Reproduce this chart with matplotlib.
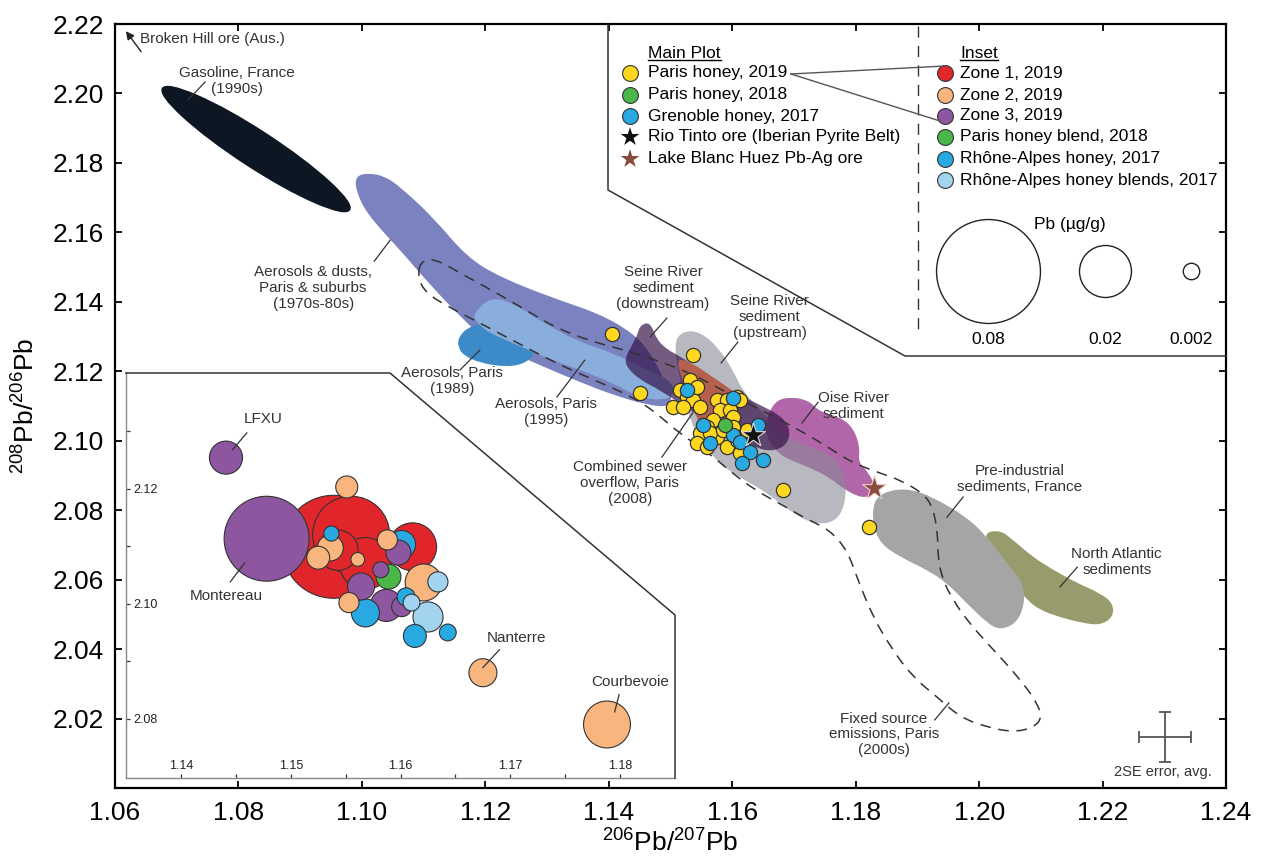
import numpy as np
import matplotlib
matplotlib.use('Agg')
import matplotlib.pyplot as plt
from matplotlib.path import Path
from matplotlib.patches import PathPatch
from matplotlib.ticker import FormatStrFormatter

plt.rcParams['font.family'] = ['Liberation Sans', 'DejaVu Sans']
plt.rcParams['mathtext.fontset'] = 'custom'
plt.rcParams['mathtext.rm'] = 'Liberation Sans'

# ---- field outlines (206Pb/207Pb, 208Pb/206Pb) ----
gasoline_x = [1.0974, 1.0874, 1.0749, 1.0669, 1.0683, 1.0783, 1.0908, 1.0988]
gasoline_y = [2.1645, 2.1722, 2.1867, 2.1997, 2.2035, 2.1958, 2.1813, 2.1683]

dusts_x = [1.0990, 1.1010, 1.1037, 1.1062, 1.1115, 1.1170, 1.1224, 1.1305, 1.1386, 1.1439,
           1.1467, 1.1486, 1.1502, 1.1499, 1.1462, 1.1407, 1.1353, 1.1300, 1.1240, 1.1191,
           1.1159, 1.1115, 1.1062, 1.1008, 1.0990]
dusts_y = [2.1762, 2.1771, 2.1762, 2.1731, 2.1644, 2.1529, 2.1471, 2.1414, 2.1365, 2.1310,
           2.1255, 2.1189, 2.1132, 2.1097, 2.1103, 2.1132, 2.1169, 2.1209, 2.1255, 2.1304,
           2.1359, 2.1440, 2.1549, 2.1653, 2.1722]

aer89_x = [1.1156, 1.1170, 1.1196, 1.1235, 1.1267, 1.1284, 1.1267, 1.1235, 1.1191, 1.1164, 1.1156]
aer89_y = [2.1296, 2.1325, 2.1339, 2.1313, 2.1284, 2.1261, 2.1224, 2.1212, 2.1224, 2.1247, 2.1270]

aer95_x = [1.1182, 1.1208, 1.1245, 1.1300, 1.1353, 1.1407, 1.1462, 1.1499, 1.1507, 1.1494,
           1.1451, 1.1407, 1.1353, 1.1300, 1.1245, 1.1203, 1.1183]
aer95_y = [2.1368, 2.1414, 2.1397, 2.1333, 2.1284, 2.1253, 2.1204, 2.1175, 2.1140, 2.1117,
           2.1123, 2.1166, 2.1204, 2.1238, 2.1281, 2.1313, 2.1348]

down_x = [1.1451, 1.1467, 1.1478, 1.1496, 1.1512, 1.1548, 1.1596, 1.1645, 1.1677, 1.1694,
          1.1690, 1.1661, 1.1629, 1.1580, 1.1532, 1.1483, 1.1451, 1.1430, 1.1426, 1.1438, 1.1446]
down_y = [2.1333, 2.1342, 2.1290, 2.1261, 2.1247, 2.1204, 2.1146, 2.1103, 2.1074, 2.1037,
          2.0988, 2.0967, 2.0988, 2.1031, 2.1088, 2.1146, 2.1175, 2.1209, 2.1238, 2.1276, 2.1304]

up_x = [1.1511, 1.1532, 1.1556, 1.1580, 1.1601, 1.1616, 1.1645, 1.1694, 1.1742, 1.1771,
        1.1784, 1.1783, 1.1767, 1.1734, 1.1702, 1.1661, 1.1621, 1.1588, 1.1567, 1.1548,
        1.1532, 1.1523, 1.1512, 1.1507]
up_y = [2.1304, 2.1319, 2.1304, 2.1261, 2.1204, 2.1146, 2.1088, 2.1002, 2.0973, 2.0944,
        2.0887, 2.0815, 2.0766, 2.0760, 2.0786, 2.0844, 2.0887, 2.0921, 2.0959, 2.1002,
        2.1060, 2.1117, 2.1204, 2.1261]

cso_x = [1.1509, 1.1532, 1.1569, 1.1604, 1.1613, 1.1588, 1.1561, 1.1543, 1.1532, 1.1519]
cso_y = [2.1238, 2.1227, 2.1183, 2.1140, 2.1103, 2.1060, 2.1025, 2.1060, 2.1117, 2.1175]

oise_x = [1.1661, 1.1673, 1.1694, 1.1723, 1.1742, 1.1775, 1.1796, 1.1807, 1.1804, 1.1820,
          1.1831, 1.1828, 1.1810, 1.1783, 1.1758, 1.1734, 1.1702, 1.1677, 1.1658, 1.1653]
oise_y = [2.1088, 2.1117, 2.1126, 2.1117, 2.1083, 2.1068, 2.1037, 2.0982, 2.0939, 2.0910,
          2.0872, 2.0844, 2.0835, 2.0858, 2.0893, 2.0916, 2.0939, 2.0959, 2.1002, 2.1045]

preind_x = [1.1835, 1.1856, 1.1888, 1.1925, 1.1980, 1.2013, 1.2050, 1.2071, 1.2074, 1.2061,
            1.2034, 1.2013, 1.1980, 1.1948, 1.1916, 1.1872, 1.1839, 1.1828, 1.1828]
preind_y = [2.0838, 2.0858, 2.0861, 2.0838, 2.0780, 2.0723, 2.0636, 2.0590, 2.0532, 2.0475,
            2.0455, 2.0475, 2.0532, 2.0590, 2.0628, 2.0665, 2.0705, 2.0763, 2.0809]

natl_x = [1.2006, 1.2034, 1.2055, 1.2087, 1.2120, 1.2159, 1.2196, 1.2217, 1.2217, 1.2196,
          1.2168, 1.2131, 1.2099, 1.2078, 1.2055, 1.2022]
natl_y = [2.0734, 2.0743, 2.0714, 2.0665, 2.0628, 2.0590, 2.0561, 2.0532, 2.0492, 2.0469,
          2.0475, 2.0492, 2.0512, 2.0541, 2.0590, 2.0665]

fixed_x = [1.1094, 1.1117, 1.1165, 1.1216, 1.1266, 1.1314, 1.1376, 1.1426, 1.1477, 1.1532,
           1.1593, 1.1656, 1.1718, 1.1768, 1.1796, 1.1839, 1.1872, 1.1909, 1.1925, 1.1933,
           1.1933, 1.1941, 1.1958, 1.1980, 1.2013, 1.2039, 1.2071, 1.2094, 1.2102, 1.2087,
           1.2055, 1.2013, 1.1969, 1.1932, 1.1893, 1.1860, 1.1828, 1.1802, 1.1786, 1.1758,
           1.1718, 1.1687, 1.1637, 1.1600, 1.1562, 1.1514, 1.1477, 1.1439, 1.1376, 1.1314,
           1.1253, 1.1191, 1.1141, 1.1104, 1.1091]
fixed_y = [2.1515, 2.1526, 2.1477, 2.1428, 2.1376, 2.1325, 2.1284, 2.1261, 2.1232, 2.1195,
           2.1137, 2.1080, 2.1022, 2.0967, 2.0936, 2.0907, 2.0887, 2.0849, 2.0809, 2.0734,
           2.0665, 2.0599, 2.0541, 2.0484, 2.0417, 2.0368, 2.0302, 2.0245, 2.0201, 2.0173,
           2.0161, 2.0175, 2.0204, 2.0262, 2.0319, 2.0397, 2.0492, 2.0607, 2.0685, 2.0743,
           2.0777, 2.0809, 2.0858, 2.0907, 2.0965, 2.1022, 2.1080, 2.1126, 2.1175, 2.1224,
           2.1281, 2.1339, 2.1385, 2.1425, 2.1468]

# ---- main plot samples ----
paris19_x = [1.1405, 1.1451, 1.1537, 1.1682, 1.1822, 1.1532, 1.1515, 1.1527, 1.1504, 1.1537,
             1.1548, 1.1520, 1.1543, 1.1575, 1.1592, 1.1608, 1.1613, 1.1580, 1.1596, 1.1601,
             1.1569, 1.1559, 1.1548, 1.1543, 1.1559, 1.1575, 1.1592, 1.1608, 1.1624, 1.1618,
             1.1613, 1.1564, 1.1585, 1.1601]
paris19_y = [2.1307, 2.1138, 2.1247, 2.0858, 2.0752, 2.1175, 2.1146, 2.1126, 2.1097, 2.1117,
             2.1097, 2.1097, 2.1155, 2.1117, 2.1117, 2.1126, 2.1117, 2.1089, 2.1089, 2.1068,
             2.1060, 2.1040, 2.1022, 2.0994, 2.0982, 2.1011, 2.0982, 2.1002, 2.1031, 2.0982,
             2.0965, 2.1022, 2.1031, 2.1040]
paris18_x = [1.1588]
paris18_y = [2.1045]
gren17_x = [1.1527, 1.1553, 1.1601, 1.1564, 1.1601, 1.1613, 1.1642, 1.1629, 1.1616, 1.1650]
gren17_y = [2.1146, 2.1045, 2.1123, 2.0994, 2.1017, 2.0996, 2.1045, 2.0967, 2.0936, 2.0944]
riotinto_x, riotinto_y = [1.1634], [2.1016]
huez_x, huez_y = [1.1830], [2.0864]

# ---- inset samples: ratio + Pb (ug/g) ----
zone1_x = [1.1539, 1.1555, 1.1543, 1.1568, 1.1611]
zone1_y = [2.1099, 2.1120, 2.1093, 2.1070, 2.1099]
zone1_pb = [0.0785, 0.0439, 0.0120, 0.0200, 0.0170]
zone2_x = [1.1551, 1.1525, 1.1536, 1.1561, 1.1553, 1.1621, 1.1588, 1.1675, 1.1788]
zone2_y = [2.1203, 2.1080, 2.1097, 2.1077, 2.1002, 2.1037, 2.1111, 2.0880, 2.0790]
zone2_pb = [0.0036, 0.0039, 0.0050, 0.0014, 0.0030, 0.0101, 0.0030, 0.0058, 0.0163]
zone3_x = [1.1441, 1.1478, 1.1564, 1.1587, 1.1598, 1.1582, 1.1601]
zone3_y = [2.1254, 2.1113, 2.1030, 2.0997, 2.1089, 2.1059, 2.0995]
zone3_pb = [0.0081, 0.0534, 0.0054, 0.0076, 0.0046, 0.0019, 0.0030]
blend18_x, blend18_y, blend18_pb = [1.1589], [2.1047], [0.0046]
ra17_x = [1.1537, 1.1601, 1.1568, 1.1613, 1.1643, 1.1605]
ra17_y = [2.1122, 2.1103, 2.0984, 2.0944, 2.0950, 2.1012]
ra17_pb = [0.0017, 0.0058, 0.0058, 0.0039, 0.0021, 0.0024]
rablend_x = [1.1634, 1.1625, 1.1610]
rablend_y = [2.1038, 2.0977, 2.1002]
rablend_pb = [0.0030, 0.0067, 0.0021]
pb_legend = [0.08, 0.02, 0.002]

YELLOW, GREEN, BLUE = '#ffd71f', '#4bb748', '#28a9e1'
RED, PEACH, PURPLE, LBLUE = '#e0262a', '#f8b57d', '#8e56a0', '#a3d4ef'
EDGE = '#333333'
TXT = '#333333'


def smooth_path(xs, ys):
    pts = np.column_stack([xs, ys])
    mids = (pts + np.roll(pts, -1, axis=0)) / 2
    verts = [mids[-1]]
    codes = [Path.MOVETO]
    for i in range(len(pts)):
        verts += [pts[i], mids[i]]
        codes += [Path.CURVE3, Path.CURVE3]
    return Path(verts, codes)


def bubble(pb):
    # marker area proportional to Pb concentration
    return 70000 * np.asarray(pb)


fig = plt.figure(figsize=(12.68, 8.65), dpi=100)
ax = fig.add_axes([0.0907, 0.0890, 0.8762, 0.8832])
ax.set_xlim(1.06, 1.24)
ax.set_ylim(2.00, 2.22)
ax.set_xticks(np.round(np.arange(1.06, 1.2401, 0.02), 2))
ax.set_yticks(np.round(np.arange(2.02, 2.2201, 0.02), 2))
ax.xaxis.set_major_formatter(FormatStrFormatter('%.2f'))
ax.yaxis.set_major_formatter(FormatStrFormatter('%.2f'))
ax.tick_params(direction='in', length=5, width=1.3, labelsize=19, top=True, right=True)
ax.tick_params(axis='y', pad=8)
ax.tick_params(axis='x', pad=9)
for s in ax.spines.values():
    s.set_linewidth(1.6)
ax.set_xlabel(r'$^{206}$Pb/$^{207}$Pb', fontsize=19, labelpad=2)
ax.set_ylabel(r'$^{208}$Pb/$^{206}$Pb', fontsize=19, labelpad=10)

fields = [
    (gasoline_x, gasoline_y, '#0d1623', 1.0),
    (dusts_x, dusts_y, '#7b82c0', 1.0),
    (aer89_x, aer89_y, '#3c8ac8', 1.0),
    (aer95_x, aer95_y, '#8aaedc', 1.0),
    (oise_x, oise_y, '#b066a8', 1.0),
    (up_x, up_y, '#8a8a96', 0.6),
    (down_x, down_y, '#320f46', 0.68),
    (cso_x, cso_y, '#b5604e', 1.0),
    (natl_x, natl_y, '#989b6b', 1.0),
    (preind_x, preind_y, '#a5a5a5', 1.0),
]
for i, (fx, fy, col, a) in enumerate(fields):
    ax.add_patch(PathPatch(smooth_path(fx, fy), facecolor=col, edgecolor='none',
                           alpha=a, zorder=1 + i * 0.01))

ax.add_patch(PathPatch(smooth_path(fixed_x, fixed_y), fill=False, edgecolor='#333333',
                       lw=1.1, linestyle=(0, (7, 5)), zorder=2))

ax.scatter(paris19_x, paris19_y, s=105, c=YELLOW, edgecolors=EDGE, linewidths=0.9, zorder=4)
ax.scatter(gren17_x, gren17_y, s=105, c=BLUE, edgecolors=EDGE, linewidths=0.9, zorder=4.1)
ax.scatter(paris18_x, paris18_y, s=105, c=GREEN, edgecolors=EDGE, linewidths=0.9, zorder=4.2)
ax.scatter(riotinto_x, riotinto_y, s=320, marker='*', c='#111111', edgecolors='#dddddd',
           linewidths=0.8, zorder=4.3)
ax.scatter(huez_x, huez_y, s=320, marker='*', c='#8b4a3e', edgecolors='#e8d0c8',
           linewidths=0.8, zorder=4.3)

labels = [
    ('Gasoline, France\n(1990s)', 1.0798, 2.2036, (1.0746, 2.2033, 1.0718, 2.1981)),
    ('Aerosols & dusts,\nParis & suburbs\n(1970s-80s)', 1.0921, 2.1440, (1.1020, 2.1517, 1.1046, 2.1578)),
    ('Aerosols, Paris\n(1989)', 1.1146, 2.1172, (1.1159, 2.1204, 1.1191, 2.1261)),
    ('Aerosols, Paris\n(1995)', 1.1298, 2.1083, (1.1316, 2.1126, 1.1361, 2.1232)),
    ('Seine River\nsediment\n(downstream)', 1.1488, 2.1440, (1.1494, 2.1353, 1.1467, 2.1299)),
    ('Seine River\nsediment\n(upstream)', 1.1661, 2.1356, (1.1609, 2.1284, 1.1582, 2.1224)),
    ('Oise River\nsediment', 1.1796, 2.1100, (1.1739, 2.1111, 1.1713, 2.1051)),
    ('Combined sewer\noverflow, Paris\n(2008)', 1.1434, 2.0878, (1.1486, 2.0953, 1.1536, 2.1080)),
    ('Pre-industrial\nsediments, France', 1.2066, 2.0890, (1.1974, 2.0838, 1.1948, 2.0780)),
    ('North Atlantic\nsediments', 1.2223, 2.0651, (1.2159, 2.0636, 1.2131, 2.0579)),
    ('Fixed source\nemissions, Paris\n(2000s)', 1.1846, 2.0155, (1.1928, 2.0196, 1.1951, 2.0245)),
]
for txt, tx, ty, (x1, y1, x2, y2) in labels:
    ax.text(tx, ty, txt, ha='center', va='center', fontsize=11, color=TXT,
            linespacing=1.15, zorder=6)
    ax.plot([x1, x2], [y1, y2], color=TXT, lw=0.9, zorder=6)

ax.annotate('', xy=(1.0615, 2.2186), xytext=(1.0645, 2.2114),
            arrowprops=dict(arrowstyle='-|>', color='#222222', lw=1, mutation_scale=12))
ax.text(1.0640, 2.2157, 'Broken Hill ore (Aus.)', ha='left', va='center', fontsize=11, color=TXT)

ax.errorbar([1.2301], [2.0147], xerr=0.0042, yerr=0.0073, fmt='none', ecolor='#555555',
            elinewidth=1.3, capsize=4, capthick=1.3)
ax.text(1.2298, 2.0046, '2SE error, avg.', ha='center', va='center', fontsize=10.5, color=TXT)

# ---- inset ----
iax = fig.add_axes([0.0994, 0.1006, 0.4330, 0.4694])
iax.set_facecolor('none')
iax.set_xlim(1.135, 1.185)
iax.set_ylim(2.0697, 2.1403)
for side in ['top', 'right']:
    iax.spines[side].set_visible(False)
for side in ['left', 'bottom']:
    iax.spines[side].set_color('#888888')
    iax.spines[side].set_linewidth(1.0)
iax.set_xticks([1.14, 1.15, 1.16, 1.17, 1.18])
iax.set_xticks([1.145, 1.155, 1.165, 1.175], minor=True)
iax.set_yticks([2.08, 2.10, 2.12])
iax.set_yticks([2.09, 2.11, 2.13], minor=True)
iax.xaxis.set_major_formatter(FormatStrFormatter('%.2f'))
iax.yaxis.set_major_formatter(FormatStrFormatter('%.2f'))
iax.tick_params(which='both', direction='in', length=3, width=0.9, color='#333333',
                labelsize=9, labelcolor='#222222')
iax.tick_params(axis='x', pad=-13)
iax.tick_params(axis='y', pad=-23)

groups = [(zone1_x, zone1_y, zone1_pb, RED), (zone2_x, zone2_y, zone2_pb, PEACH),
          (zone3_x, zone3_y, zone3_pb, PURPLE), (blend18_x, blend18_y, blend18_pb, GREEN),
          (ra17_x, ra17_y, ra17_pb, BLUE), (rablend_x, rablend_y, rablend_pb, LBLUE)]
bx, by, bpb, bcol = [], [], [], []
for gx, gy, gpb, col in groups:
    bx += gx
    by += gy
    bpb += gpb
    bcol += [col] * len(gx)
order = np.argsort(bpb)[::-1]
iax.scatter(np.array(bx)[order], np.array(by)[order], s=bubble(np.array(bpb)[order]),
            c=np.array(bcol)[order], edgecolors=EDGE, linewidths=0.8, zorder=3)

inset_labels = [
    ('LFXU', 1.1475, 2.1322, (1.1460, 2.1297, 1.1447, 2.1268)),
    ('Montereau', 1.1441, 2.1014, (1.1445, 2.1038, 1.1458, 2.1071)),
    ('Nanterre', 1.1706, 2.0941, (1.1690, 2.0920, 1.1675, 2.0889)),
    ('Courbevoie', 1.1809, 2.0864, (1.1799, 2.0842, 1.1795, 2.0812)),
]
for txt, tx, ty, (x1, y1, x2, y2) in inset_labels:
    iax.text(tx, ty, txt, ha='center', va='center', fontsize=11, color=TXT, zorder=5)
    iax.plot([x1, x2], [y1, y2], color=TXT, lw=0.9, zorder=5)

# ---- overlay for frames and legend (pixel layout) ----
lax = fig.add_axes([0, 0, 1, 1])
lax.set_xlim(0, 1268)
lax.set_ylim(865, 0)
lax.axis('off')
lax.set_facecolor('none')

lax.plot([126, 390, 675, 675], [373, 373, 615, 778], color='#333333', lw=1.1)
lax.plot([608, 608, 905, 1226], [24, 190, 356, 356], color='#333333', lw=1.1)
lax.plot([918, 918], [26, 334], color='#333333', lw=1.0, ls=(0, (8, 6)))

h1 = lax.text(648, 53, 'Main Plot', fontsize=12.5, va='center', ha='left')
h2 = lax.text(960, 53, 'Inset', fontsize=12.5, va='center', ha='left')

main_rows = [73, 95, 116, 137, 159]
main_entries = [('Paris honey, 2019', YELLOW, 'o'), ('Paris honey, 2018', GREEN, 'o'),
                ('Grenoble honey, 2017', BLUE, 'o'),
                ('Rio Tinto ore (Iberian Pyrite Belt)', '#111111', '*'),
                ('Lake Blanc Huez Pb-Ag ore', '#8b4a3e', '*')]
for yy, (lab, col, mk) in zip(main_rows, main_entries):
    if mk == 'o':
        lax.scatter([630], [yy], s=130, c=col, edgecolors=EDGE, linewidths=0.8)
    else:
        lax.scatter([630], [yy], s=200, marker='*', c=col, edgecolors='none')
    lax.text(648, yy, lab, fontsize=12.5, va='center', ha='left')

inset_rows = [73, 95, 116, 137, 159, 180]
inset_entries = [('Zone 1, 2019', RED), ('Zone 2, 2019', PEACH), ('Zone 3, 2019', PURPLE),
                 ('Paris honey blend, 2018', GREEN), ('Rhône-Alpes honey, 2017', BLUE),
                 ('Rhône-Alpes honey blends, 2017', LBLUE)]
for yy, (lab, col) in zip(inset_rows, inset_entries):
    lax.scatter([945], [yy], s=130, c=col, edgecolors=EDGE, linewidths=0.8)
    lax.text(960, yy, lab, fontsize=12.5, va='center', ha='left')

lax.plot([791, 945], [74, 66], color='#555555', lw=1)
lax.plot([791, 940], [74, 121], color='#555555', lw=1)

lax.text(1070, 225, 'Pb (µg/g)', fontsize=12.5, ha='center', va='center')
for cx, pb in zip([988, 1105, 1191], pb_legend):
    lax.scatter([cx], [271], s=bubble(pb), facecolors='white', edgecolors='#222222', linewidths=1)
    lax.text(cx, 340, f'{pb:g}', fontsize=12.5, ha='center', va='center')

fig.canvas.draw()
renderer = fig.canvas.get_renderer()
inv = lax.transData.inverted()
for h in (h1, h2):
    bb = h.get_window_extent(renderer)
    (xa, ya), (xb, yb) = inv.transform([[bb.x0, bb.y0], [bb.x1, bb.y1]])
    lax.plot([xa, xb], [ya - 1, ya - 1], color='black', lw=1)

fig.savefig('out.png', dpi=100)
